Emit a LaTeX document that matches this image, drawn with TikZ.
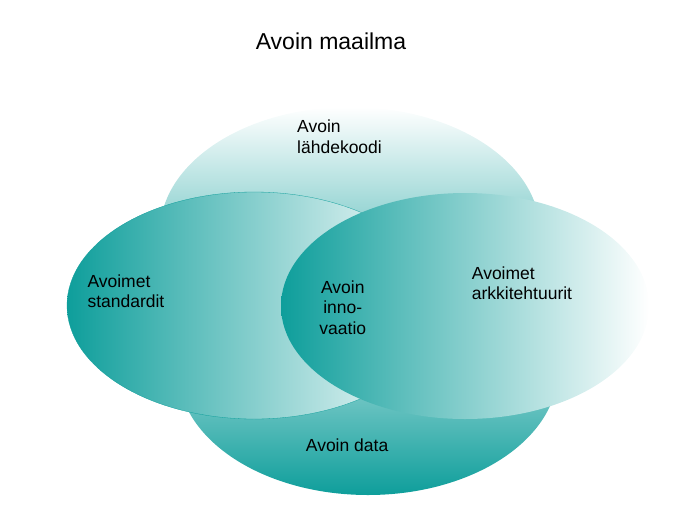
\documentclass[tikz,border=0pt]{standalone}
\usepackage{fontspec}
\setmainfont{Liberation Sans}
\usetikzlibrary{shapes.geometric}
\definecolor{avteal}{HTML}{0E9E9B}

\begin{document}
\begin{tikzpicture}[x=1pt, y=-1pt,
        ell/.style={ellipse, inner sep=0pt, minimum width=#1},
        lbl/.style={inner sep=0pt, align=left, anchor=base west, font=\fontsize{17.5}{20.5}\selectfont}]
        \useasboundingbox (0,0) rectangle (700,525);

        \node[anchor=base, inner sep=0pt, font=\fontsize{23}{27}\selectfont] (T) at (331,49) {Avoin maailma};

        \node[ell=380pt, minimum height=250pt, top color=white, bottom color=avteal] (E1) at (350,232) {};
        \node[ell=380pt, minimum height=250pt, top color=white, middle color=white, bottom color=avteal] (E2) at (368,370) {};
        \node[ell=374pt, minimum height=227pt, left color=avteal, right color=white, draw=avteal, line width=0.3pt] (E3) at (254,305.5) {};
        \node[ell=368pt, minimum height=226pt, left color=avteal, right color=white] (E4) at (465,306) {};

        % base = last line
        \node[lbl] (L1) at (297,153.3) {Avoin\\lähdekoodi};
        \node[lbl] (L2) at (87.3,307.5) {Avoimet\\standardit};
        \node[lbl, align=center, anchor=base] (L3) at (342.8,334) {Avoin\\inno-\\vaatio};
        \node[lbl] (L4) at (471.7,299.5) {Avoimet\\arkkitehtuurit};
        \node[lbl] (L5) at (305.7,451.7) {Avoin data};
    \end{tikzpicture}
\end{document}
